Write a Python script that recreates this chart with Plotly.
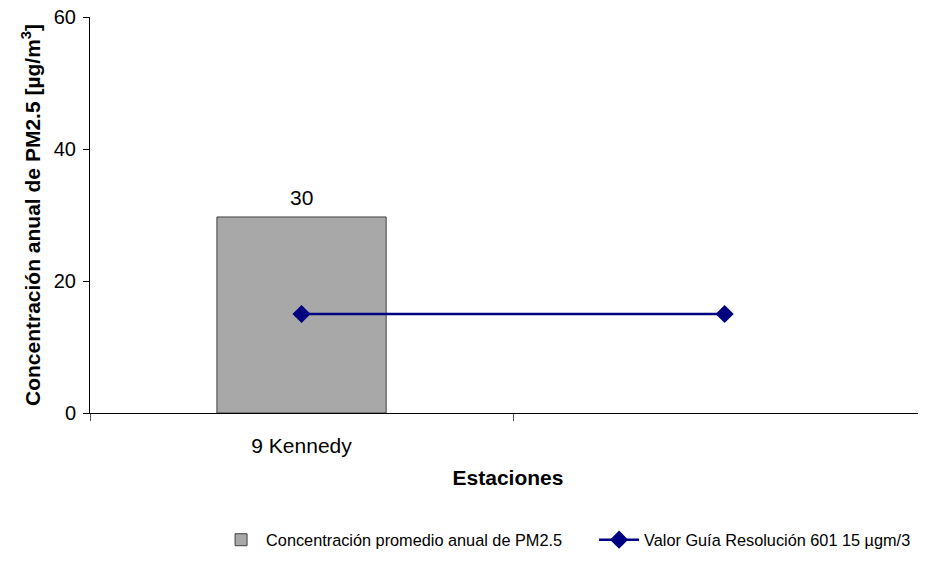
import plotly.graph_objects as go

stations = ["9 Kennedy", " "]
bar_values = [29.7]
guide_values = [15, 15]
bar_name = "Concentración promedio anual de PM2.5"
line_name = "Valor Guía Resolución 601 15 µgm/3"

font_family = "Liberation Sans, Arial, sans-serif"

fig = go.Figure()
fig.add_trace(go.Bar(
    x=stations[:1], y=bar_values, name=bar_name,
    width=0.4,
    marker=dict(color="#a8a8a8", line=dict(color="#404040", width=1)),
))
fig.add_trace(go.Scatter(
    x=stations, y=guide_values, name=line_name, mode="lines+markers",
    line=dict(color="#000080", width=2.5),
    marker=dict(symbol="diamond", size=14, color="#000080"),
))

for cat, val in zip(stations, bar_values):
    fig.add_annotation(x=cat, y=val, text=f"{val:.0f}", showarrow=False,
                       yanchor="bottom", yshift=6,
                       font=dict(size=21, color="black", family=font_family))

# page body has an 8px margin; compensate so the plot sits where the reference does
fig.update_layout(
    width=918, height=553,
    margin=dict(l=82, r=0, t=9, b=148, autoexpand=False),
    paper_bgcolor="white", plot_bgcolor="white",
    font=dict(family=font_family, size=18, color="black"),
    showlegend=True,
    legend=dict(orientation="h", x=0.1508, xanchor="left", y=-0.321, yanchor="middle",
                font=dict(size=16.3), traceorder="normal", itemwidth=40, entrywidth=323),
)
fig.update_xaxes(
    type="category", categoryorder="array", categoryarray=stations,
    range=[-0.5, 1.476],
    showline=True, linecolor="black", linewidth=1,
    ticks="outside", tickson="boundaries", ticklen=7, tickcolor="#555",
    showgrid=False, zeroline=False,
    tickfont=dict(size=21), ticklabelstandoff=14,
    title=dict(text="<b>Estaciones</b>", font=dict(size=21), standoff=14),
    automargin=False,
)
fig.update_yaxes(
    range=[0, 60], dtick=20,
    showline=True, linecolor="black", linewidth=1,
    ticks="outside", ticklen=6, tickcolor="black",
    showgrid=False, zeroline=False,
    tickfont=dict(size=20), ticklabelstandoff=3, ticklabeloverflow="allow",
    title=dict(text="<b>Concentración anual de PM2.5 [µg/m<sup>3</sup>]</b>", font=dict(size=21), standoff=7),
    automargin=False,
)

fig.write_html("out.html")
